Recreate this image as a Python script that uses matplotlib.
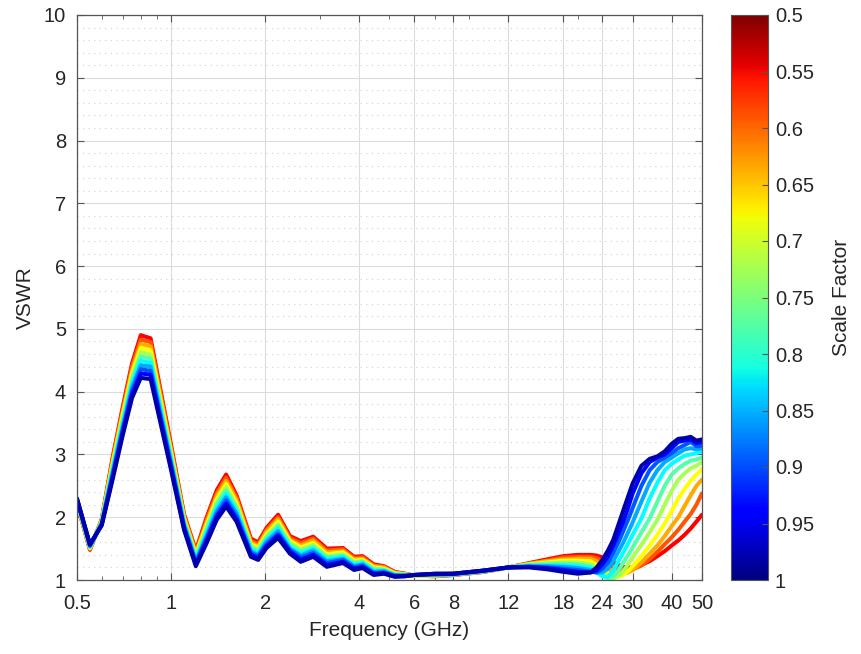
import matplotlib
matplotlib.use("Agg")
import matplotlib.pyplot as plt
import numpy as np
from matplotlib import colors as mcolors
from matplotlib.cm import ScalarMappable

plt.rcParams['font.family'] = ['Liberation Sans', 'DejaVu Sans']

# Frequency grid (GHz)
freq = [0.5, 0.55, 0.6, 0.65, 0.7, 0.75, 0.8, 0.86, 1.0, 1.1, 1.2, 1.3, 1.4, 1.5,
        1.62, 1.8, 1.9, 2.02, 2.2, 2.4, 2.6, 2.85, 3.15, 3.55, 3.85, 4.1, 4.45, 4.8,
        5.2, 5.6, 6.0, 7.0, 8.0, 10.0, 12.0, 14.0, 16.0, 18.0, 20.0,
        22, 23, 24, 25, 26, 27, 28, 29, 30, 32, 34, 36, 38, 40, 42, 44, 46, 48, 50]

scale_factors = [0.5, 0.55, 0.6, 0.65, 0.7, 0.75, 0.8, 0.85, 0.9, 0.95, 1.0]

# VSWR per scale factor
vswr_050 = [2.22, 1.48, 1.97, 2.95, 3.75, 4.45, 4.90, 4.85, 3.15, 2.05, 1.47, 2.00, 2.43, 2.68,
            2.35, 1.66, 1.60, 1.83, 2.04, 1.70, 1.62, 1.69, 1.50, 1.51, 1.37, 1.38, 1.25, 1.22,
            1.13, 1.10, 1.07, 1.06, 1.08, 1.13, 1.20, 1.27, 1.33, 1.38, 1.40,
            1.40, 1.39, 1.36, 1.32, 1.28, 1.24, 1.21, 1.20, 1.20, 1.24, 1.30, 1.38, 1.46, 1.55, 1.63, 1.72, 1.82, 1.93, 2.04]
vswr_055 = [2.23, 1.49, 1.96, 2.92, 3.71, 4.40, 4.83, 4.79, 3.11, 2.03, 1.45, 1.96, 2.38, 2.63,
            2.31, 1.63, 1.57, 1.80, 2.00, 1.67, 1.59, 1.66, 1.47, 1.49, 1.35, 1.36, 1.23, 1.21,
            1.12, 1.10, 1.07, 1.06, 1.08, 1.13, 1.20, 1.26, 1.31, 1.36, 1.37,
            1.37, 1.35, 1.30, 1.25, 1.20, 1.17, 1.15, 1.15, 1.17, 1.23, 1.33, 1.45, 1.57, 1.68, 1.80, 1.93, 2.05, 2.20, 2.38]
vswr_060 = [2.24, 1.50, 1.95, 2.88, 3.66, 4.34, 4.76, 4.72, 3.07, 2.00, 1.42, 1.92, 2.34, 2.58,
            2.27, 1.60, 1.54, 1.77, 1.97, 1.64, 1.55, 1.63, 1.44, 1.46, 1.33, 1.34, 1.22, 1.20,
            1.11, 1.09, 1.07, 1.07, 1.08, 1.13, 1.20, 1.26, 1.30, 1.33, 1.34,
            1.34, 1.30, 1.24, 1.18, 1.13, 1.10, 1.10, 1.12, 1.16, 1.28, 1.42, 1.55, 1.70, 1.86, 2.00, 2.18, 2.35, 2.50, 2.60]
vswr_065 = [2.24, 1.51, 1.94, 2.85, 3.62, 4.29, 4.70, 4.66, 3.03, 1.98, 1.40, 1.88, 2.29, 2.53,
            2.22, 1.57, 1.52, 1.73, 1.93, 1.62, 1.52, 1.59, 1.41, 1.44, 1.31, 1.32, 1.20, 1.18,
            1.11, 1.09, 1.07, 1.07, 1.09, 1.14, 1.20, 1.25, 1.28, 1.31, 1.31,
            1.30, 1.24, 1.16, 1.10, 1.06, 1.05, 1.08, 1.14, 1.22, 1.38, 1.55, 1.72, 1.90, 2.10, 2.30, 2.45, 2.58, 2.68, 2.76]
vswr_070 = [2.25, 1.52, 1.93, 2.81, 3.57, 4.23, 4.63, 4.59, 2.99, 1.95, 1.37, 1.84, 2.24, 2.48,
            2.18, 1.54, 1.49, 1.70, 1.89, 1.59, 1.49, 1.56, 1.38, 1.41, 1.29, 1.30, 1.18, 1.17,
            1.10, 1.08, 1.07, 1.08, 1.09, 1.14, 1.20, 1.24, 1.27, 1.28, 1.28,
            1.25, 1.18, 1.10, 1.04, 1.02, 1.06, 1.14, 1.25, 1.36, 1.56, 1.76, 1.96, 2.20, 2.42, 2.60, 2.70, 2.78, 2.82, 2.88]
vswr_075 = [2.26, 1.53, 1.92, 2.78, 3.53, 4.18, 4.56, 4.53, 2.95, 1.93, 1.35, 1.80, 2.20, 2.43,
            2.14, 1.52, 1.46, 1.67, 1.86, 1.56, 1.46, 1.53, 1.36, 1.39, 1.27, 1.29, 1.17, 1.16,
            1.09, 1.08, 1.08, 1.08, 1.09, 1.14, 1.20, 1.24, 1.25, 1.26, 1.25,
            1.22, 1.15, 1.06, 1.02, 1.05, 1.15, 1.28, 1.40, 1.52, 1.76, 1.98, 2.25, 2.50, 2.68, 2.78, 2.85, 2.90, 2.92, 2.95]
vswr_080 = [2.27, 1.53, 1.91, 2.74, 3.48, 4.12, 4.49, 4.46, 2.91, 1.90, 1.32, 1.75, 2.15, 2.37,
            2.10, 1.49, 1.43, 1.64, 1.82, 1.53, 1.42, 1.50, 1.33, 1.37, 1.24, 1.27, 1.15, 1.15,
            1.08, 1.08, 1.08, 1.08, 1.09, 1.14, 1.20, 1.23, 1.23, 1.23, 1.22,
            1.19, 1.12, 1.06, 1.05, 1.15, 1.30, 1.44, 1.58, 1.72, 1.98, 2.30, 2.55, 2.75, 2.85, 2.92, 2.98, 3.00, 3.02, 3.05]
vswr_085 = [2.28, 1.54, 1.90, 2.71, 3.44, 4.07, 4.42, 4.40, 2.87, 1.88, 1.30, 1.71, 2.10, 2.32,
            2.06, 1.46, 1.40, 1.61, 1.78, 1.50, 1.39, 1.47, 1.30, 1.34, 1.22, 1.25, 1.13, 1.14,
            1.07, 1.07, 1.08, 1.09, 1.09, 1.14, 1.20, 1.22, 1.22, 1.21, 1.19,
            1.16, 1.12, 1.12, 1.18, 1.30, 1.45, 1.60, 1.76, 1.92, 2.25, 2.55, 2.75, 2.88, 2.95, 3.02, 3.08, 3.10, 3.08, 3.10]
vswr_090 = [2.28, 1.55, 1.89, 2.67, 3.39, 4.01, 4.36, 4.33, 2.83, 1.85, 1.27, 1.67, 2.05, 2.27,
            2.01, 1.43, 1.38, 1.57, 1.74, 1.48, 1.36, 1.43, 1.27, 1.32, 1.20, 1.23, 1.11, 1.12,
            1.07, 1.07, 1.08, 1.09, 1.10, 1.15, 1.20, 1.21, 1.20, 1.18, 1.16,
            1.13, 1.12, 1.18, 1.28, 1.43, 1.60, 1.78, 1.96, 2.15, 2.50, 2.75, 2.88, 2.95, 3.02, 3.10, 3.15, 3.20, 3.13, 3.14]
vswr_095 = [2.29, 1.56, 1.88, 2.64, 3.35, 3.96, 4.29, 4.27, 2.79, 1.83, 1.25, 1.63, 2.01, 2.22,
            1.97, 1.40, 1.35, 1.54, 1.71, 1.45, 1.32, 1.40, 1.24, 1.29, 1.18, 1.21, 1.10, 1.11,
            1.06, 1.06, 1.08, 1.10, 1.10, 1.15, 1.20, 1.21, 1.19, 1.16, 1.13,
            1.12, 1.15, 1.25, 1.38, 1.55, 1.74, 1.93, 2.15, 2.38, 2.70, 2.88, 2.95, 3.00, 3.10, 3.20, 3.22, 3.24, 3.18, 3.20]
vswr_100 = [2.30, 1.57, 1.87, 2.60, 3.30, 3.90, 4.22, 4.20, 2.75, 1.80, 1.22, 1.59, 1.96, 2.17,
            1.93, 1.37, 1.32, 1.51, 1.67, 1.42, 1.29, 1.37, 1.21, 1.27, 1.16, 1.19, 1.08, 1.10,
            1.05, 1.06, 1.08, 1.10, 1.10, 1.15, 1.20, 1.20, 1.17, 1.13, 1.10,
            1.12, 1.20, 1.32, 1.47, 1.64, 1.88, 2.11, 2.33, 2.54, 2.82, 2.93, 2.97, 3.05, 3.17, 3.25, 3.26, 3.28, 3.22, 3.24]

curves = [vswr_050, vswr_055, vswr_060, vswr_065, vswr_070, vswr_075,
          vswr_080, vswr_085, vswr_090, vswr_095, vswr_100]

# Line colours (MATLAB jet(11), red for 0.5 to dark blue for 1.0)
line_colors = ['#ff0000', '#ff5500', '#ffaa00', '#ffff00', '#aaff55', '#55ffaa',
               '#00ffff', '#00aaff', '#0055ff', '#0000ff', '#0000aa']

xticks = [0.5, 1, 2, 4, 6, 8, 12, 18, 24, 30, 40, 50]
xticklabels = ['0.5', '1', '2', '4', '6', '8', '12', '18', '24', '30', '40', '50']
cbar_ticks = [0.5, 0.55, 0.6, 0.65, 0.7, 0.75, 0.8, 0.85, 0.9, 0.95, 1.0]
cbar_ticklabels = ['0.5', '0.55', '0.6', '0.65', '0.7', '0.75', '0.8', '0.85', '0.9', '0.95', '1']

W, H = 862, 654
fig = plt.figure(figsize=(W / 100, H / 100), dpi=100)
ax = fig.add_axes([77 / W, 74 / H, 625 / W, 565 / H])

for vals, col in zip(curves, line_colors):
    ax.plot(freq, vals, color=col, lw=2.9, solid_joinstyle='round', solid_capstyle='round')

txt = '#262626'
ax.set_xscale('log')
ax.set_xlim(0.5, 50)
ax.set_ylim(1, 10)
ax.set_xticks(xticks)
ax.set_xticklabels(xticklabels)
ax.set_yticks(range(1, 11))
ax.yaxis.set_minor_locator(matplotlib.ticker.MultipleLocator(0.2))
ax.xaxis.set_minor_locator(matplotlib.ticker.LogLocator(base=10, subs=np.arange(2, 10)))
ax.xaxis.set_minor_formatter(matplotlib.ticker.NullFormatter())
ax.grid(True, which='major', color='#dcdcdc', lw=0.8, ls='-')
ax.grid(True, which='minor', axis='y', color='#d0d0d0', lw=0.8, ls=(0, (1, 4)))
ax.tick_params(which='both', direction='in', top=True, right=True, colors='#555555',
               labelcolor=txt, labelsize=14.5)
ax.tick_params(which='major', length=5)
ax.tick_params(which='minor', length=3)
ax.tick_params(axis='y', which='minor', length=0)
ax.tick_params(axis='x', which='major', pad=10)
ax.tick_params(axis='y', which='major', pad=8)
for sp in ax.spines.values():
    sp.set_color('#555555')
    sp.set_linewidth(0.9)
ax.set_xlabel('Frequency (GHz)', fontsize=15, color=txt, labelpad=6)
ax.set_ylabel('VSWR', fontsize=15, color=txt, labelpad=6)
ax.set_axisbelow(True)

cax = fig.add_axes([731 / W, 74 / H, 37 / W, 565 / H])
sm = ScalarMappable(norm=mcolors.Normalize(vmin=0.5, vmax=1.0), cmap='jet_r')
cb = fig.colorbar(sm, cax=cax, ticks=cbar_ticks)
cb.ax.set_yticklabels(cbar_ticklabels)
cb.ax.invert_yaxis()
cb.ax.tick_params(direction='in', length=4, colors='#555555', labelcolor=txt,
                  labelsize=14.5, pad=5)
cb.outline.set_edgecolor('#555555')
cb.set_label('Scale Factor', fontsize=15, color=txt, labelpad=13)

fig.savefig('out.png', dpi=100)
